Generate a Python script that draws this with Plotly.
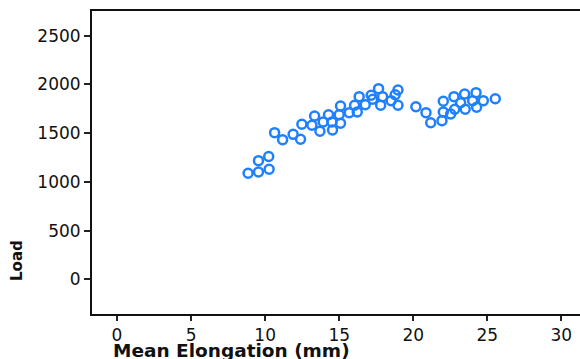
import plotly.graph_objects as go

elongation = [8.85, 9.55, 10.27, 9.55, 10.24, 10.64, 11.18, 11.89, 12.39, 12.48,
              13.16, 13.34, 13.70, 13.92, 14.28, 14.51, 14.55, 15.00, 15.09, 15.09,
              15.68, 16.04, 16.22, 16.35, 16.76, 17.16, 17.26, 17.66, 17.80, 17.93,
              18.51, 18.78, 18.97, 18.97, 20.18, 20.86, 21.18, 21.94, 22.03, 22.03,
              22.53, 22.80, 22.75, 23.20, 23.47, 23.51, 24.01, 24.24, 24.28, 24.73,
              25.54]
load = [1089, 1102, 1130, 1218, 1261, 1505, 1433, 1488, 1437, 1591,
        1581, 1676, 1519, 1614, 1689, 1614, 1532, 1689, 1601, 1778,
        1710, 1786, 1717, 1874, 1792, 1888, 1847, 1956, 1786, 1874,
        1833, 1894, 1942, 1786, 1771, 1710, 1607, 1628, 1717, 1827,
        1696, 1745, 1874, 1812, 1901, 1745, 1833, 1915, 1765, 1833,
        1853]

x_ticks = [0, 5, 10, 15, 20, 25, 30]
y_ticks = [0, 500, 1000, 1500, 2000, 2500]

fig = go.Figure(go.Scatter(
    x=elongation, y=load, mode="markers",
    marker=dict(symbol="circle-open", size=9, color="#1f80ff",
                line=dict(width=2.5, color="#1f80ff")),
    showlegend=False,
))

tickfont = dict(family="DejaVu Sans", size=17, color="#111111")
fig.update_layout(
    width=592, height=359,
    margin=dict(l=92, r=0, t=11, b=45),
    plot_bgcolor="white", paper_bgcolor="white",
    xaxis=dict(range=[-1.69, 32.07], tickvals=x_ticks, ticks="outside",
               ticklen=5, tickwidth=1.5, tickcolor="#222", showgrid=False,
               zeroline=False, showline=True, linecolor="#111", linewidth=2,
               mirror=True, tickfont=tickfont, automargin=False),
    yaxis=dict(range=[-354, 2752], tickvals=y_ticks, ticks="outside",
               ticklen=6, tickwidth=1.5, tickcolor="#222", showgrid=False,
               zeroline=False, showline=True, linecolor="#111", linewidth=2,
               tickfont=tickfont, automargin=False),
    annotations=[
        dict(text="<b>Mean Elongation (mm)</b>", xref="paper", yref="paper",
             x=0.279, y=-0.119, xanchor="center", yanchor="middle",
             showarrow=False, font=dict(family="DejaVu Sans", size=18.5, color="#111")),
        dict(text="<b>Load</b>", xref="paper", yref="paper",
             x=-0.150, y=0.175, xanchor="center", yanchor="middle", textangle=-90,
             showarrow=False, font=dict(family="DejaVu Sans", size=15, color="#111")),
    ],
)

fig.write_html(
    "out.html",
    config={"displayModeBar": False},
    post_script="document.body.style.margin='0';document.body.style.overflow='hidden';",
)
